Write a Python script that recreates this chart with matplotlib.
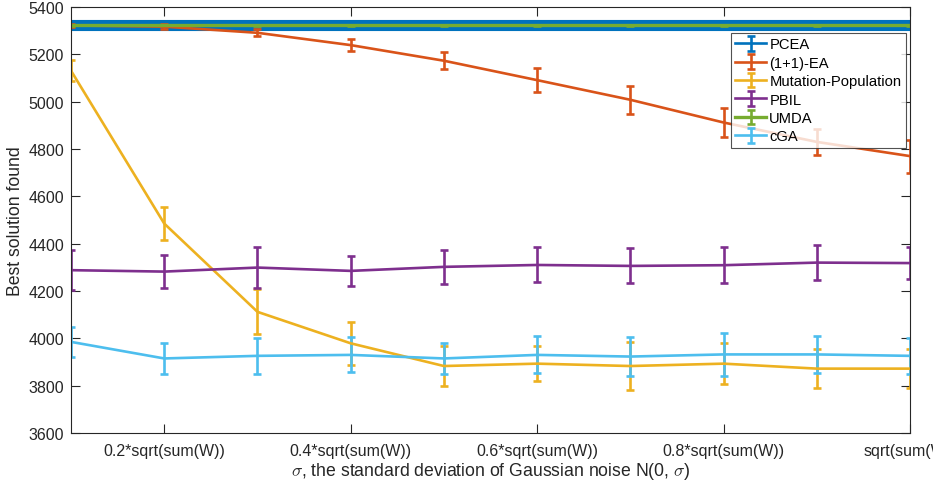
import matplotlib
matplotlib.use("Agg")
import matplotlib.pyplot as plt
import numpy as np

plt.rcParams['font.family'] = ['Liberation Sans', 'DejaVu Sans']
plt.rcParams['mathtext.fontset'] = 'cm'

x = [0.1, 0.2, 0.3, 0.4, 0.5, 0.6, 0.7, 0.8, 0.9, 1.0]
tick_pos = [0.2, 0.4, 0.6, 0.8, 1.0]
tick_labels = ["0.2*sqrt(sum(W))", "0.4*sqrt(sum(W))", "0.6*sqrt(sum(W))",
               "0.8*sqrt(sum(W))", "sqrt(sum(W))"]

pcea = [5323, 5323, 5323, 5323, 5323, 5323, 5323, 5323, 5323, 5323]
pcea_err = [10, 10, 10, 10, 10, 10, 10, 10, 10, 10]
ea = [5322, 5317, 5291, 5239, 5173, 5091, 5008, 4912, 4830, 4770]
ea_err = [8, 10, 15, 25, 37, 50, 58, 60, 55, 70]
mutpop = [5131, 4485, 4112, 3979, 3883, 3893, 3883, 3893, 3872, 3872]
mutpop_err = [45, 70, 95, 90, 83, 75, 100, 88, 83, 83]
pbil = [4288, 4282, 4299, 4285, 4302, 4310, 4306, 4309, 4320, 4318]
pbil_err = [85, 71, 86, 65, 73, 74, 74, 76, 74, 66]
umda = [5323, 5323, 5323, 5323, 5323, 5323, 5323, 5323, 5323, 5323]
umda_err = [3, 3, 3, 3, 3, 3, 3, 3, 3, 3]
cga = [3985, 3915, 3926, 3930, 3915, 3930, 3923, 3932, 3932, 3926]
cga_err = [63, 67, 75, 74, 67, 78, 82, 90, 78, 75]

names = ["PCEA", "(1+1)-EA", "Mutation-Population", "PBIL", "UMDA", "cGA"]
colors = ["#0072BD", "#D95319", "#EDB120", "#7E2F8E", "#77AC30", "#4DBEEE"]
series = [(pcea, pcea_err), (ea, ea_err), (mutpop, mutpop_err),
          (pbil, pbil_err), (umda, umda_err), (cga, cga_err)]

fig = plt.figure(figsize=(9.33, 4.85), dpi=100)
ax = fig.add_axes([71/933, 1-434/485, (910-71)/933, (434-8)/485])

lw = 1.9
for i, ((y, e), n, c) in enumerate(zip(series, names, colors)):
    if i == 0:
        # thick band for PCEA
        ax.plot(x, y, color=c, lw=8.0, solid_capstyle='butt', zorder=2)
    ax.errorbar(x, y, yerr=e, color=c, lw=(2.4 if n == "UMDA" else lw),
                elinewidth=lw, capsize=3, capthick=lw, label=n, zorder=2)

ax.set_xlim(0.1, 1.0)
ax.set_ylim(3600, 5400)
ax.set_yticks(np.arange(3600, 5401, 200))
ax.set_xticks(tick_pos)
ax.set_xticklabels(tick_labels)
ax.tick_params(direction='in', length=6.5, width=0.8, colors='#262626',
               labelsize=11.5, top=True, right=True)
ax.tick_params(axis='x', pad=7)
ax.tick_params(axis='y', pad=5)
for s in ax.spines.values():
    s.set_color('#262626')
    s.set_linewidth(0.8)

ax.set_xlabel(r"$\sigma$, the standard deviation of Gaussian noise N(0, $\sigma$)",
              fontsize=12.7, color='#262626', labelpad=2)
ax.set_ylabel("Best solution found", fontsize=12.7, color='#262626', labelpad=3)

leg = ax.legend(loc='upper right', bbox_to_anchor=(0.995, 0.939), fontsize=10.6,
                frameon=True, fancybox=False, edgecolor='#262626',
                borderpad=0.3, labelspacing=0.3, handlelength=2.1,
                handletextpad=0.2, borderaxespad=0)
leg.get_frame().set_linewidth(0.8)

fig.savefig("out.png", dpi=100)
